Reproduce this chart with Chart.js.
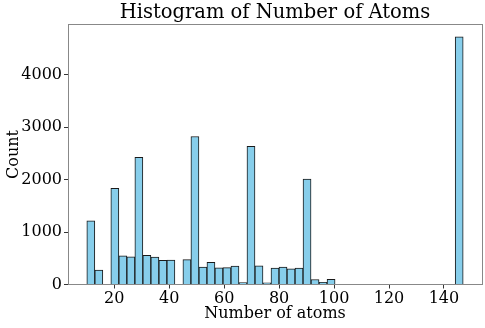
<!DOCTYPE html>
<html>
<head>
<meta charset="utf-8">
<script src="https://cdn.jsdelivr.net/npm/chart.js@4/dist/chart.umd.min.js"></script>
<style>
  html, body { margin: 0; padding: 0; background: #fff; }
  #wrap { width: 485px; height: 328px; }
</style>
</head>
<body>
<div id="wrap"><canvas id="hist"></canvas></div>
<script>
// histogram bins: 47 equal bins from 10 to 147 atoms
const BIN_START = 10;
const BIN_END = 147;
const BIN_COUNT = 47;
const counts = [
  1213, 276, 0, 1835, 548, 529, 2424, 555, 524, 460,
  466, 0, 473, 2823, 330, 421, 320, 322, 350, 35,
  2633, 358, 30, 314, 333, 300, 312, 2011, 95, 40,
  100, 0, 0, 0, 0, 0, 0, 0, 0, 0,
  0, 0, 0, 0, 0, 0, 4724
];
const xTicks = [20, 40, 60, 80, 100, 120, 140];
const yTicks = [0, 1000, 2000, 3000, 4000];

const FONT = "'DejaVu Serif', serif";
const binWidth = (BIN_END - BIN_START) / BIN_COUNT;
const margin = (BIN_END - BIN_START) * 0.05;

const points = counts.map((c, i) => ({ x: BIN_START + (i + 0.5) * binWidth, y: c }));

// draws the gray box round the plot area (matplotlib spines)
const frame = {
  id: 'frame',
  afterDatasetsDraw(chart) {
    const a = chart.chartArea, ctx = chart.ctx;
    ctx.save();
    ctx.strokeStyle = '#888';
    ctx.lineWidth = 1;
    ctx.strokeRect(Math.round(a.left) + 0.5, Math.round(a.top) + 0.5,
      Math.round(a.right - a.left), Math.round(a.bottom - a.top));
    ctx.restore();
  }
};

new Chart(document.getElementById('hist'), {
  type: 'bar',
  data: {
    datasets: [{
      data: points,
      backgroundColor: '#87ceeb',
      borderColor: '#1a1a1a',
      borderWidth: 1,
      barPercentage: 1,
      categoryPercentage: 1,
      grouped: false
    }]
  },
  options: {
    responsive: true,
    maintainAspectRatio: false,
    animation: false,
    layout: { padding: { left: 0, right: 3, top: 0, bottom: 0 } },
    plugins: {
      legend: { display: false },
      tooltip: { enabled: false },
      title: {
        display: true,
        fullSize: false,
        text: 'Histogram of Number of Atoms',
        color: '#000',
        font: { family: FONT, size: 19.5, weight: 'normal' },
        padding: { top: 1, bottom: 0 }
      }
    },
    scales: {
      x: {
        type: 'linear',
        offset: false,
        min: BIN_START - margin,
        max: BIN_END + margin,
        afterBuildTicks: s => { s.ticks = xTicks.map(v => ({ value: v })); },
        afterFit: s => { s.height = 43.5; },
        ticks: { color: '#000', font: { family: FONT, size: 16 }, padding: 1, maxRotation: 0, autoSkip: false, callback: v => String(v) },
        grid: { display: true, offset: false, drawOnChartArea: false, drawTicks: true, tickLength: 4, color: '#333' },
        border: { display: false },
        title: { display: true, text: 'Number of atoms', color: '#000', font: { family: FONT, size: 16 }, padding: { top: 0, bottom: 5 } }
      },
      y: {
        min: 0,
        max: 4724 * 1.05,
        afterBuildTicks: s => { s.ticks = yTicks.map(v => ({ value: v })); },
        afterFit: s => { s.width = 68; },
        ticks: { color: '#000', font: { family: FONT, size: 16 }, padding: 2, autoSkip: false, callback: v => String(v) },
        grid: { display: true, drawOnChartArea: false, drawTicks: true, tickLength: 4, color: '#333' },
        border: { display: false },
        title: { display: true, text: 'Count', color: '#000', font: { family: FONT, size: 16 }, padding: { top: 4, bottom: 0 } }
      }
    }
  },
  plugins: [frame]
});
</script>
</body>
</html>
